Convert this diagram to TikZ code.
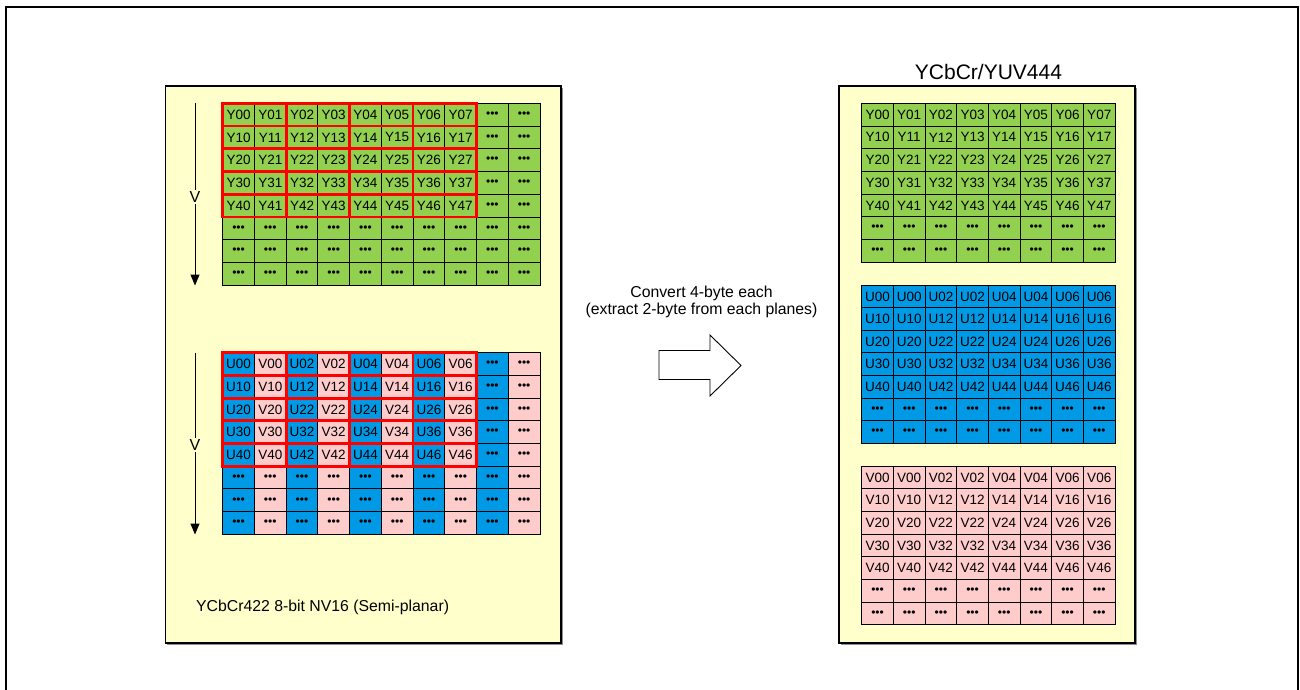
\documentclass[tikz,border=0pt]{standalone}
\usepackage{fontspec}
\setmainfont{Liberation Sans}
\usetikzlibrary{arrows.meta}
\definecolor{cgreen}{HTML}{92D050}
\definecolor{cblue}{HTML}{0099E6}
\definecolor{cpink}{HTML}{FFCCCC}
\definecolor{cpanel}{HTML}{FFFFCC}
\newcommand\celldots{{\fontsize{12}{12}\selectfont •••}}
\begin{document}
\begin{tikzpicture}[x=1pt,y=-1pt,
  cellbox/.style={draw=black, line width=0.9pt, minimum width=31.7pt, minimum height=22.7pt,
    inner sep=0pt, outer sep=0pt, anchor=north west, font=\fontsize{13.5}{14}\selectfont},
  redbox/.style={draw=red, line width=2.8pt},
  panelbox/.style={draw=black, fill=cpanel, line width=1.6pt, inner sep=0pt, outer sep=0pt, anchor=north west},
  shadowbox/.style={fill=black!45, inner sep=0pt, outer sep=0pt, anchor=north west},
  vlabel/.style={font=\fontsize{16}{16}\selectfont, inner sep=1.5pt},
  txtlabel/.style={font=\fontsize{15.8}{17}\selectfont, align=center, inner sep=0pt},
  varrow/.style={line width=1pt, -{Triangle[width=9pt,length=11pt]}},
  vline/.style={line width=1pt}]
\useasboundingbox (0,0) rectangle (1300,690);
% outer frame
\draw[line width=2pt] (6,7) rectangle (1298,700);
% panels
\node[shadowbox, minimum width=395.5pt, minimum height=557pt] (lpshadow) at (167.3,87.8) {};
\node[panelbox, minimum width=395.5pt, minimum height=557pt] (lp) at (165.5,86) {};
\node[shadowbox, minimum width=296pt, minimum height=557pt] (rpshadow) at (840.8,87.8) {};
\node[panelbox, minimum width=296pt, minimum height=557pt] (rp) at (839,86) {};
% titles / labels
\node[font=\fontsize{21}{21}\selectfont, inner sep=0pt] (title) at (988.5,71.5) {YCbCr/YUV444};
\node[txtlabel, anchor=west] (lplabel) at (196,607) {YCbCr422 8-bit NV16 (Semi-planar)};
\node[txtlabel] (conv) at (701.5,301.5) {Convert 4-byte each\\(extract 2-byte from each planes)};
% block arrow
\draw[line width=0.9pt, fill=white] (659,350.5) -- (710,350.5) -- (710,335) -- (741,365.5)
  -- (710,396) -- (710,379.5) -- (659,379.5) -- cycle;
% left Y grid
\foreach \r in {0,...,7}{\foreach \c in {0,...,9}{
  \pgfmathsetmacro\xx{222.7+\c*31.73}
  \pgfmathsetmacro\yy{103.3+\r*22.75}
  \def\txt{\celldots}
  \ifnum\r<5 \ifnum\c<8 \edef\txt{Y\r\c}\fi\fi
  \node[cellbox, fill=cgreen] (ly-\r-\c) at (\xx,\yy) {\txt};
}}
% left UV grid
\foreach \r in {0,...,7}{\foreach \c in {0,...,9}{
  \pgfmathsetmacro\xx{222.7+\c*31.73}
  \pgfmathsetmacro\yy{352.7+\r*22.7}
  \pgfmathtruncatemacro\pp{mod(\c,2)}
  \pgfmathtruncatemacro\ev{\c-\pp}
  \ifnum\pp=0 \def\fc{cblue}\def\lt{U}\else\def\fc{cpink}\def\lt{V}\fi
  \def\txt{\celldots}
  \ifnum\r<5 \ifnum\c<8 \edef\txt{\lt\r\ev}\fi\fi
  \node[cellbox, fill=\fc] (luv-\r-\c) at (\xx,\yy) {\txt};
}}
% red group boxes
\foreach \r in {0,...,4}{\foreach \g in {0,...,3}{
  \pgfmathtruncatemacro\ca{2*\g}
  \pgfmathtruncatemacro\cb{2*\g+1}
  \draw[redbox] (ly-\r-\ca.north west) rectangle (ly-\r-\cb.south east);
  \draw[redbox] (luv-\r-\ca.north west) rectangle (luv-\r-\cb.south east);
}}
% right Y grid
\foreach \r in {0,...,6}{\foreach \c in {0,...,7}{
  \pgfmathsetmacro\xx{861.7+\c*31.67}
  \pgfmathsetmacro\yy{103.3+\r*22.7}
  \def\txt{\celldots}
  \ifnum\r<5 \edef\txt{Y\r\c}\fi
  \node[cellbox, fill=cgreen] (ry-\r-\c) at (\xx,\yy) {\txt};
}}
% right U grid
\foreach \r in {0,...,6}{\foreach \c in {0,...,7}{
  \pgfmathsetmacro\xx{861.7+\c*31.67}
  \pgfmathsetmacro\yy{285+\r*22.6}
  \pgfmathtruncatemacro\pp{mod(\c,2)}
  \pgfmathtruncatemacro\ev{\c-\pp}
  \def\txt{\celldots}
  \ifnum\r<5 \edef\txt{U\r\ev}\fi
  \node[cellbox, fill=cblue] (ru-\r-\c) at (\xx,\yy) {\txt};
}}
% right V grid
\foreach \r in {0,...,6}{\foreach \c in {0,...,7}{
  \pgfmathsetmacro\xx{861.7+\c*31.67}
  \pgfmathsetmacro\yy{466+\r*22.7}
  \pgfmathtruncatemacro\pp{mod(\c,2)}
  \pgfmathtruncatemacro\ev{\c-\pp}
  \def\txt{\celldots}
  \ifnum\r<5 \edef\txt{V\r\ev}\fi
  \node[cellbox, fill=cpink] (rv-\r-\c) at (\xx,\yy) {\txt};
}}
% V arrows
\coordinate (v1t) at (195,103);
\coordinate (v1b) at (195,285.5);
\node[vlabel] (v1) at (195,197) {V};
\draw[vline] (v1t) -- (v1.north);
\draw[varrow] (v1.south) -- (v1b);
\coordinate (v2t) at (195,352.5);
\coordinate (v2b) at (195,534.5);
\node[vlabel] (v2) at (195,445) {V};
\draw[vline] (v2t) -- (v2.north);
\draw[varrow] (v2.south) -- (v2b);
\end{tikzpicture}
\end{document}
